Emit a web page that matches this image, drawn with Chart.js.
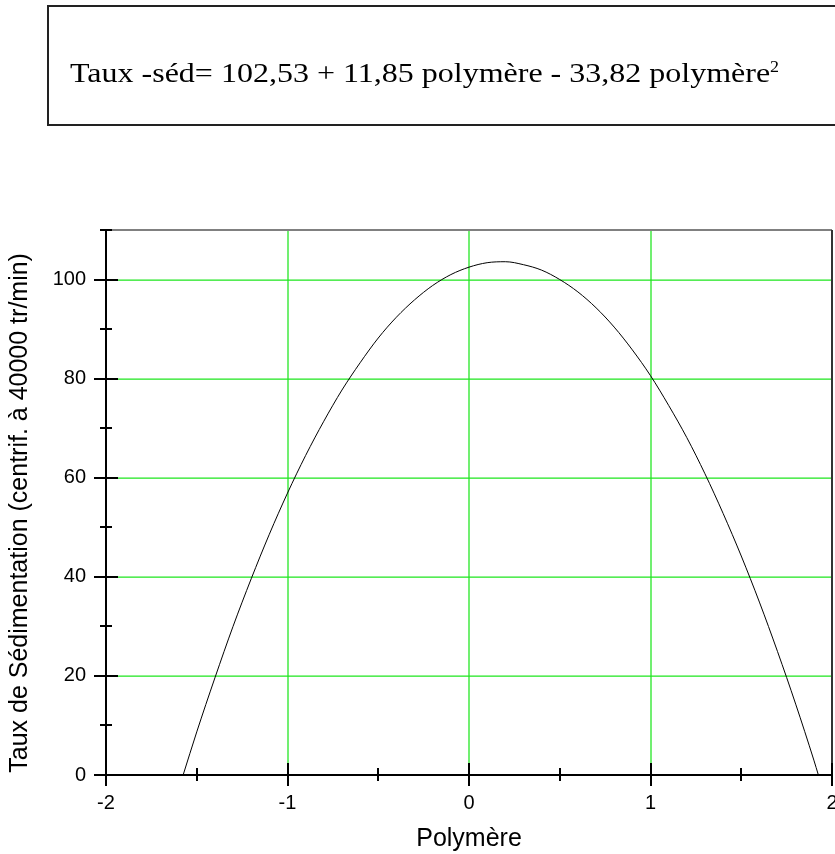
<!DOCTYPE html>
<html>
<head>
<meta charset="utf-8">
<script src="https://cdn.jsdelivr.net/npm/chart.js@4"></script>
<style>
  body { margin: 0; background: #fff; }
  #wrap { position: relative; width: 835px; height: 854px; }
  #eqBox {
    position: absolute; left: 47px; top: 5px; width: 800px; height: 121px;
    border: 2px solid #222; box-sizing: border-box; border-right: none;
  }
  #eqText {
    position: absolute; left: 70px; top: 55px;
    font-family: "Liberation Serif", "Times New Roman", serif; font-size: 32px; color: #000;
    white-space: nowrap; line-height: 32px;
    transform: scaleY(0.87); transform-origin: 0 27px;
  }
  #eqText sup { font-size: 18px; vertical-align: baseline; position: relative; top: -11px; }
  #myChart { position: absolute; left: 0; top: 0; }
</style>
</head>
<body>
<div id="wrap">
  <canvas id="myChart" width="835" height="854"></canvas>
  <div id="eqBox"></div>
  <div id="eqText">Taux -séd= 102,53 + 11,85 polymère - 33,82 polymère<sup>2</sup></div>
</div>
<script>
// values
const polymere = [-1.575, -1.5, -1.4, -1.3, -1.2, -1.1, -1.0, -0.9, -0.8, -0.7, -0.6, -0.5, -0.4, -0.3, -0.2, -0.1,
    0, 0.1, 0.2, 0.3, 0.4, 0.5, 0.6, 0.7, 0.8, 0.9, 1.0, 1.1, 1.2, 1.3, 1.4, 1.5, 1.6, 1.7, 1.8, 1.9, 1.925];
const tauxSed = [0, 8.7, 19.6, 30.0, 39.6, 48.6, 56.9, 64.5, 71.4, 77.7, 83.2, 88.2, 92.4, 95.9, 98.8, 101.0,
    102.5, 103.4, 103.6, 103.0, 101.9, 100.0, 97.5, 94.3, 90.4, 85.8, 80.6, 74.6, 68.1, 60.8, 52.8, 44.2, 34.9, 24.9, 14.3, 3.0, 0];

const xMajorTicks = [-2, -1, 0, 1, 2];
const xMinorTicks = [-1.5, -0.5, 0.5, 1.5];
const yMajorTicks = [0, 20, 40, 60, 80, 100];
const yMinorTicks = [10, 30, 50, 70, 90, 110];
const xGridLines = [-1, 0, 1];
const yGridLines = [20, 40, 60, 80, 100];

const GREEN = 'rgb(30,230,30)';

const points = polymere.map((x, i) => ({ x: x, y: tauxSed[i] }));

// green grid under the curve
const gridPlugin = {
    id: 'greenGrid',
    beforeDatasetsDraw(chart) {
        const ctx = chart.ctx;
        const a = chart.chartArea;
        const xs = chart.scales.x;
        const ys = chart.scales.y;
        ctx.save();
        ctx.strokeStyle = GREEN;
        ctx.lineWidth = 1.25;
        ctx.beginPath();
        xGridLines.forEach(v => {
            const px = Math.round(xs.getPixelForValue(v));
            ctx.moveTo(px, a.top); ctx.lineTo(px, a.bottom);
        });
        yGridLines.forEach(v => {
            const py = Math.round(ys.getPixelForValue(v));
            ctx.moveTo(a.left, py); ctx.lineTo(a.right, py);
        });
        ctx.stroke();
        ctx.restore();
    }
};

// axes, ticks and frame drawn on top like the original plot
const framePlugin = {
    id: 'frame',
    afterDatasetsDraw(chart) {
        const ctx = chart.ctx;
        const a = chart.chartArea;
        const xs = chart.scales.x;
        const ys = chart.scales.y;
        ctx.save();
        // gray top line
        ctx.strokeStyle = '#808080';
        ctx.lineWidth = 2;
        ctx.beginPath();
        ctx.moveTo(a.left, a.top);
        ctx.lineTo(a.right, a.top);
        ctx.stroke();
        // right border
        ctx.strokeStyle = '#333';
        ctx.beginPath();
        ctx.moveTo(a.right, a.top);
        ctx.lineTo(a.right, a.bottom);
        ctx.stroke();
        // axes
        ctx.strokeStyle = '#000';
        ctx.beginPath();
        ctx.moveTo(a.left, a.top);
        ctx.lineTo(a.left, a.bottom);
        ctx.lineTo(a.right, a.bottom);
        ctx.stroke();
        // ticks
        ctx.beginPath();
        yMajorTicks.forEach(v => {
            const py = Math.round(ys.getPixelForValue(v));
            ctx.moveTo(a.left - 12, py); ctx.lineTo(a.left + 12, py);
        });
        yMinorTicks.forEach(v => {
            const py = Math.round(ys.getPixelForValue(v));
            ctx.moveTo(a.left - 6, py); ctx.lineTo(a.left + 6, py);
        });
        xMajorTicks.forEach(v => {
            const px = Math.round(xs.getPixelForValue(v));
            ctx.moveTo(px, a.bottom - 12); ctx.lineTo(px, a.bottom + 11);
        });
        xMinorTicks.forEach(v => {
            const px = Math.round(xs.getPixelForValue(v));
            ctx.moveTo(px, a.bottom - 7); ctx.lineTo(px, a.bottom + 6);
        });
        ctx.stroke();
        ctx.restore();
    }
};

var ctx = document.getElementById('myChart').getContext('2d');
var myChart = new Chart(ctx, {
    type: 'scatter',
    data: {
        datasets: [{
            data: points,
            showLine: true,
            borderColor: '#000',
            borderWidth: 1,
            pointRadius: 0,
            cubicInterpolationMode: 'monotone',
            fill: false
        }]
    },
    options: {
        responsive: false,
        animation: false,
        layout: { padding: { top: 230, right: 3, left: 0, bottom: 0 } },
        plugins: {
            legend: { display: false },
            tooltip: { enabled: false }
        },
        scales: {
            x: {
                type: 'linear',
                min: -2,
                max: 2,
                afterFit: s => { s.height = 79; s.paddingLeft = 0; s.paddingRight = 0; },
                border: { display: false },
                grid: { display: false, drawTicks: false },
                ticks: {
                    stepSize: 1,
                    padding: 16,
                    maxRotation: 0,
                    color: '#000',
                    font: { family: 'Liberation Sans, Arial', size: 20 }
                },
                title: {
                    display: true,
                    text: 'Polymère',
                    color: '#000',
                    padding: { top: 0, bottom: 0 },
                    font: { family: 'Liberation Sans, Arial', size: 25 }
                }
            },
            y: {
                min: 0,
                max: 110,
                afterFit: s => { s.width = 106; s.paddingTop = 0; s.paddingBottom = 0; },
                border: { display: false },
                grid: { display: false, drawTicks: false },
                ticks: {
                    stepSize: 10,
                    padding: 20,
                    color: '#000',
                    font: { family: 'Liberation Sans, Arial', size: 20 },
                    callback: v => (v % 20 === 0 && v <= 100) ? v : ''
                },
                title: {
                    display: true,
                    text: 'Taux de Sédimentation (centrif. à 40000 tr/min)\u00a0\u00a0\u00a0',
                    color: '#000',
                    padding: { top: 5, bottom: 0 },
                    font: { family: 'Liberation Sans, Arial', size: 25 }
                }
            }
        }
    },
    plugins: [gridPlugin, framePlugin]
});
</script>
</body>
</html>
